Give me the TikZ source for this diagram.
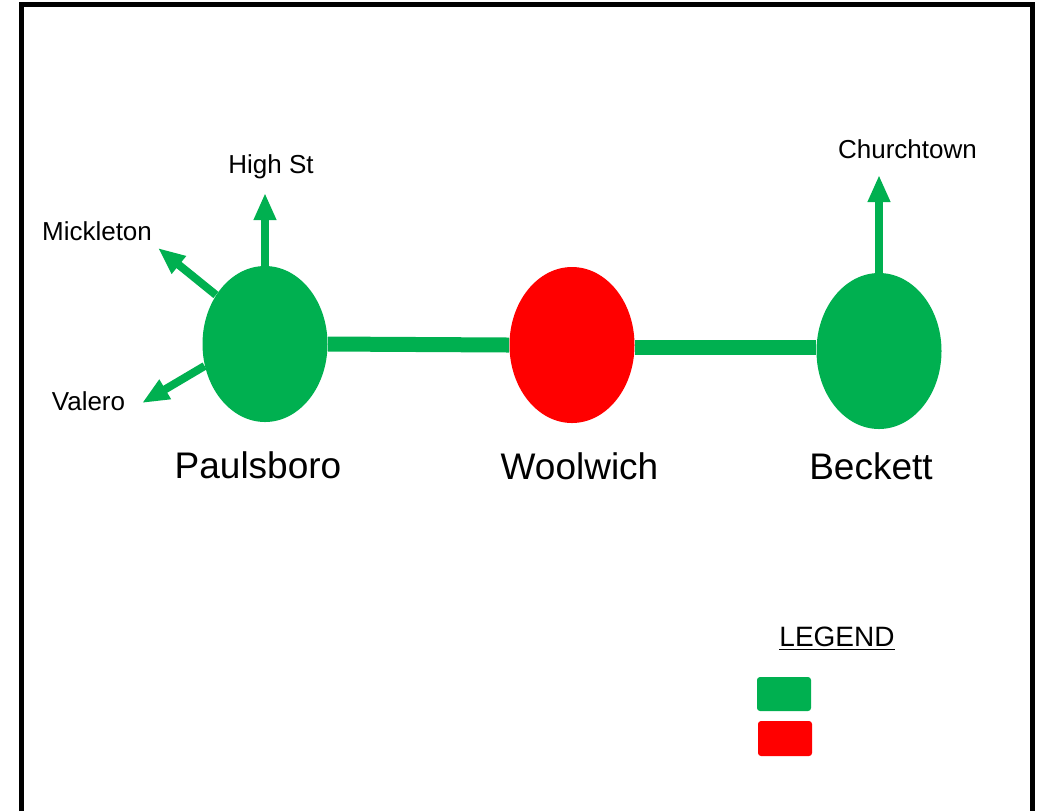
\documentclass[tikz,border=0pt]{standalone}
\usepackage{fontspec}
\setmainfont{Liberation Sans}
\usetikzlibrary{arrows.meta, shapes.geometric}
\definecolor{linegreen}{HTML}{00B050}
\definecolor{linered}{HTML}{FF0000}

\begin{document}
\begin{tikzpicture}[x=0.5pt, y=-0.5pt,
    stop/.style={ellipse, inner sep=0pt, minimum width=62.5pt, minimum height=78pt},
    route/.style={linegreen, line width=7.5pt},
    branch/.style={linegreen, line width=4pt, -{Triangle[length=13.5pt, width=10.5pt]}},
    small/.style={anchor=base, font=\fontsize{13}{15}\selectfont},
    big/.style={anchor=base, font=\fontsize{18.5}{22}\selectfont}]
        \useasboundingbox (0,0) rectangle (1043,811);
        % Frame
        \draw[line width=2.5pt] (21.5,811) -- (21.5,4.5) -- (1032.5,4.5) -- (1032.5,811);
        % Stations
        \node[stop, fill=linegreen] (pb) at (265,344) {};
        \node[stop, fill=linered] (ww) at (572,345) {};
        \node[stop, fill=linegreen] (bk) at (879,351) {};
        \draw[route] (pb.east) -- (ww.west);
        \draw[route] ([yshift=-1pt]ww.east) -- ([yshift=-1pt]ww.east -| bk.west);
        % Branches
        \coordinate (highst) at (265,193);
        \coordinate (mickleton) at (158,248);
        \coordinate (valero) at (142,403);
        \coordinate (churchtown) at (879,175);
        \draw[branch] (pb.north) -- (highst);
        \draw[branch] (pb.135) -- (mickleton);
        \draw[branch] (pb.200) -- (valero);
        \draw[branch] (bk.north) -- (churchtown);
        % Labels
        \node[small] (lhs) at (271,173) {High St};
        \node[small] (lmk) at (97,240) {Mickleton};
        \node[small] (lva) at (88.5,410) {Valero};
        \node[small] (lct) at (907.5,158) {Churchtown};
        \node[big] (lpb) at (258,478) {Paulsboro};
        \node[big] (lww) at (579.5,479) {Woolwich};
        \node[big] (lbk) at (871,479) {Beckett};
        % Legend
        \node[anchor=base, font=\fontsize{14}{17}\selectfont] (legend) at (837,646) {\underline{LEGEND}};
        \fill[linegreen, rounded corners=1.5pt] (757,677) rectangle (811,711);
        \fill[linered, rounded corners=1.5pt] (758,721) rectangle (812,756);
      \end{tikzpicture}
\end{document}
